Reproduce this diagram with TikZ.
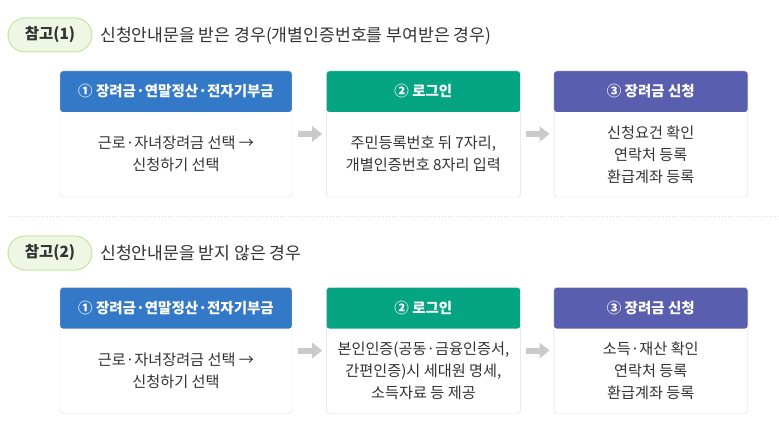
\documentclass[tikz,border=0pt]{standalone}
\usepackage{fontspec}
\setmainfont{Noto Sans CJK KR}
\usepackage{xcolor}
\usetikzlibrary{arrows.meta, positioning}

\definecolor{stepblue}{HTML}{3479C7}
\definecolor{stepgreen}{HTML}{05A482}
\definecolor{steppurple}{HTML}{595EAF}
\definecolor{tagfill}{HTML}{EEF6E4}
\definecolor{tagline}{HTML}{C5E69F}
\definecolor{cardline}{HTML}{DCDCDC}
\definecolor{txt}{HTML}{333333}
\definecolor{flowgray}{HTML}{CACACA}

\begin{document}
\begin{tikzpicture}[x=1pt, y=1pt,
    % caja de cada paso, con la franja de color arriba
    card/.style={
        rectangle,
        rounded corners=3pt,
        draw=cardline,
        fill=white,
        minimum width=194pt,
        minimum height=126pt,
        inner sep=0pt,
        path picture={\fill[#1] (path picture bounding box.north west) rectangle ([yshift=-41pt]path picture bounding box.north east);}
    },
    headtext/.style={text=white, font=\bfseries\fontsize{14.5}{16}\selectfont},
    bodytext/.style={text=txt, align=center, font=\fontsize{15.2}{22}\selectfont},
    % etiqueta verde
    tag/.style={
        rectangle,
        rounded corners=17pt,
        draw=tagline,
        fill=tagfill,
        line width=1pt,
        minimum width=84pt,
        minimum height=34pt,
        text=txt,
        font=\bfseries\fontsize{15.5}{18}\selectfont
    },
    title/.style={anchor=west, inner sep=0pt, text=txt, font=\fontsize{17.2}{20}\selectfont},
    flow/.style={draw=flowgray, line width=6pt, -{Triangle[width=15pt, length=10pt]}}
]
    \useasboundingbox (0,0) rectangle (779,-422);

    % --- REFERENCIA 1 ---
    \node[tag] (tag1) at (50,-35) {참고(1)};
    \node[title] (title1) at (100,-36) {신청안내문을 받은 경우(개별인증번호를 부여받은 경우)};

    \node[card=stepblue, minimum width=232pt] (c11) at (176,-134) {};
    \node[card=stepgreen, right=34pt of c11] (c12) {};
    \node[card=steppurple, right=33pt of c12] (c13) {};

    \node[headtext] (h11) at ([yshift=-20.5pt]c11.north) {① 장려금·연말정산·전자기부금};
    \node[headtext] (h12) at ([yshift=-20.5pt]c12.north) {② 로그인};
    \node[headtext] (h13) at ([yshift=-20.5pt]c13.north) {③ 장려금 신청};

    \node[bodytext] (b11) at ([yshift=-83.5pt]c11.north) {근로·자녀장려금 선택 →\\신청하기 선택};
    \node[bodytext] (b12) at ([yshift=-83.5pt]c12.north) {주민등록번호 뒤 7자리,\\개별인증번호 8자리 입력};
    \node[bodytext] (b13) at ([yshift=-83.5pt]c13.north) {신청요건 확인\\연락처 등록\\환급계좌 등록};

    \draw[flow] ([xshift=6pt]c11.east) -- ([xshift=-4pt]c12.west);
    \draw[flow] ([xshift=5pt]c12.east) -- ([xshift=-4pt]c13.west);

    % --- SEPARADOR ---
    \draw[draw=cardline, line width=0.8pt, dotted] (8,-216) -- (779,-216);

    % --- REFERENCIA 2 ---
    \node[tag] (tag2) at (50,-253) {참고(2)};
    \node[title] (title2) at (100,-253) {신청안내문을 받지 않은 경우};

    \node[card=stepblue, minimum width=232pt] (c21) at (176,-350.5) {};
    \node[card=stepgreen, right=34pt of c21] (c22) {};
    \node[card=steppurple, right=33pt of c22] (c23) {};

    \node[headtext] (h21) at ([yshift=-20.5pt]c21.north) {① 장려금·연말정산·전자기부금};
    \node[headtext] (h22) at ([yshift=-20.5pt]c22.north) {② 로그인};
    \node[headtext] (h23) at ([yshift=-20.5pt]c23.north) {③ 장려금 신청};

    \node[bodytext] (b21) at ([yshift=-83.5pt]c21.north) {근로·자녀장려금 선택 →\\신청하기 선택};
    \node[bodytext] (b22) at ([yshift=-83.5pt]c22.north) {본인인증(공동·금융인증서,\\간편인증)시 세대원 명세,\\소득자료 등 제공};
    \node[bodytext] (b23) at ([yshift=-83.5pt]c23.north) {소득·재산 확인\\연락처 등록\\환급계좌 등록};

    \draw[flow] ([xshift=6pt]c21.east) -- ([xshift=-4pt]c22.west);
    \draw[flow] ([xshift=5pt]c22.east) -- ([xshift=-4pt]c23.west);

\end{tikzpicture}
\end{document}
